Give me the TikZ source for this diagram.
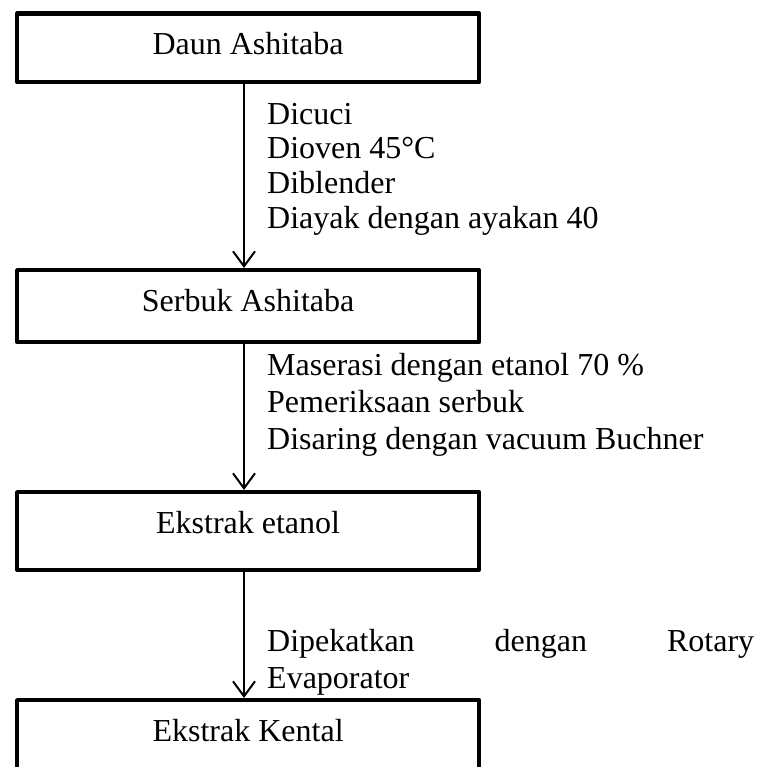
\documentclass[tikz,border=0pt]{standalone}
\usepackage{fontspec}
\setmainfont{Liberation Serif}
\usetikzlibrary{arrows.meta}
\begin{document}
\begin{tikzpicture}[x=1pt,y=-1pt,
  box/.style={draw,line width=4.2pt,line join=round,minimum width=462pt,inner sep=0pt,anchor=north west,font=\fontsize{32}{37}\selectfont},
  steps/.style={align=left,anchor=base west,inner sep=0pt,font=\fontsize{32}{37}\selectfont},
  flow/.style={line width=2pt,-{Straight Barb[length=15pt,width=22pt,line width=2pt]}}]
\useasboundingbox (0,0) rectangle (759,767);
\clip (0,0) rectangle (759,767);
\node[box,minimum height=68.5pt,text height=21.5pt,text depth=8pt] (b1) at (15,11.5) {Daun Ashitaba};
\node[box,minimum height=72pt,text height=18pt,text depth=8pt] (b2) at (15,268) {Serbuk Ashitaba};
\node[box,minimum height=77.5pt,text height=12.5pt,text depth=8pt] (b3) at (15,490) {Ekstrak etanol};
\node[box,minimum height=80pt,text height=10pt,text depth=8pt] (b4) at (15,698) {Ekstrak Kental};
\coordinate (ax) at (244,0);
\draw[flow] (b1.south -| ax) -- (b2.north -| ax);
\draw[flow] (b2.south -| ax) -- (b3.north -| ax);
\draw[flow] (b3.south -| ax) -- (b4.north -| ax);
% anchor base west = baseline of the last line
\node[steps,font=\fontsize{32}{34.5}\selectfont] (t1) at (267,228) {Dicuci\\Dioven 45°C\\Diblender\\Diayak dengan ayakan 40};
\node[steps] (t2) at (267,449) {Maserasi dengan etanol 70 \%\\Pemeriksaan serbuk\\Disaring dengan vacuum Buchner};
\node[steps] (t3) at (267,688) {\hbox to 487pt{Dipekatkan\hfill dengan\hfill Rotary}\\Evaporator};
\end{tikzpicture}
\end{document}
